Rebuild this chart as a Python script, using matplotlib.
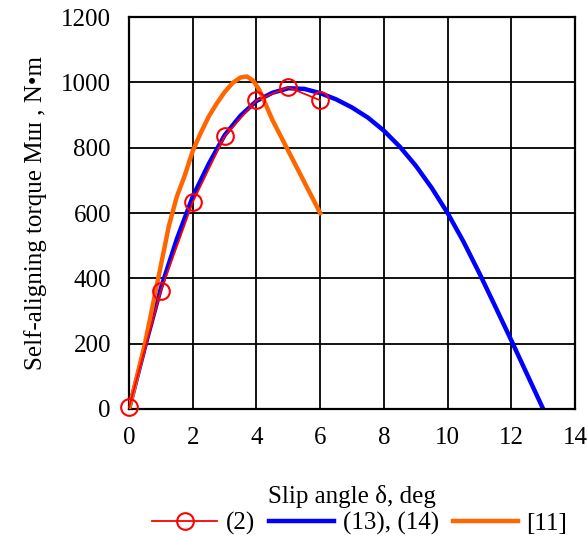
import matplotlib.pyplot as plt

plt.rcParams['font.family'] = ['Liberation Serif', 'DejaVu Serif']

# (2) - measured points
x_pts = [0, 1, 2, 3, 4, 5, 6]
y_pts = [5, 362, 633, 835, 945, 985, 945]

# (13), (14) - calculated curve
x_calc = [0, 0.5, 1, 1.5, 2, 2.5, 3, 3.5, 4, 4.5, 5, 5.5, 6, 6.5, 7, 7.5, 8,
          8.5, 9, 9.5, 10, 10.5, 11, 11.5, 12, 12.5, 13]
y_calc = [0, 190, 370, 520, 650, 750, 838, 898, 943, 968, 982, 980, 967, 948,
          923, 892, 852, 803, 745, 677, 600, 512, 415, 313, 210, 105, 0]

# [11]
x_ref = [0, 0.5, 1, 1.25, 1.5, 1.75, 2, 2.25, 2.5, 2.75, 3, 3.25, 3.5, 3.7,
         3.9, 4.1, 4.5, 5, 5.5, 6]
y_ref = [0, 200, 440, 560, 650, 715, 790, 845, 895, 935, 970, 998, 1015, 1018,
         1005, 975, 885, 790, 695, 600]

fig = plt.figure(figsize=(5.87, 5.37), dpi=100)
ax = fig.add_axes([0.2198, 0.2384, 0.7598, 0.7299])

l1, = ax.plot(x_pts, y_pts, color='red', lw=1.3, marker='o', markersize=12,
              markerfacecolor='none', markeredgecolor='red', markeredgewidth=1.5,
              clip_on=False, zorder=4, label='(2)')
l2, = ax.plot(x_calc, y_calc, color='#0000ff', lw=3.2, zorder=2, label='(13), (14)')
l3, = ax.plot(x_ref, y_ref, color='#ff6600', lw=3.2, zorder=3, label='[11]')

ax.set_xlim(0, 14)
ax.set_ylim(0, 1200)
ax.set_xticks(range(0, 15, 2))
ax.set_yticks(range(0, 1201, 200))
ax.grid(True, color='black', lw=1.3)
ax.set_axisbelow(True)
for s in ax.spines.values():
    s.set_linewidth(1.6)
ax.tick_params(length=0, labelsize=18)
ax.tick_params(axis='y', pad=13)
ax.tick_params(axis='x', pad=13)

ax.set_xlabel('Slip angle δ, deg', fontsize=18, labelpad=26)
ax.set_ylabel('Self-aligning torque Mш , N•m', fontsize=18, labelpad=10)

fig.legend(handles=[l1, l2, l3], loc='center', bbox_to_anchor=(0.613, 0.025),
           ncol=3, frameon=False, fontsize=18, handlelength=2.6,
           columnspacing=0.55, handletextpad=0.35)

fig.savefig('out.png', dpi=100)
